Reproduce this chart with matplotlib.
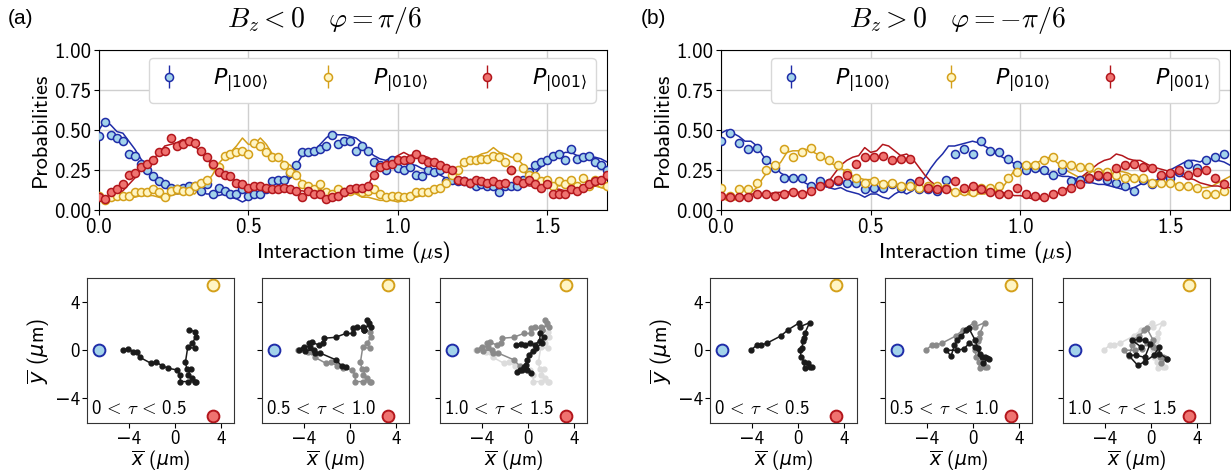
import numpy as np
import matplotlib.pyplot as plt
from matplotlib.font_manager import FontProperties

# LaTeX-like sans serif (shipped with matplotlib), DejaVu for missing glyphs
plt.rcParams['font.family'] = ['cmss10', 'DejaVu Sans']
plt.rcParams['mathtext.fontset'] = 'cm'

# ---- data: panel (a), Bz < 0 ----
t_a = np.arange(86) * 0.02          # measured every 20 ns
a_blue = [0.46, 0.55, 0.47, 0.45, 0.43, 0.35, 0.34, 0.29, 0.25, 0.21,
          0.18, 0.16, 0.14, 0.13, 0.14, 0.15, 0.15, 0.12, 0.16, 0.10,
          0.14, 0.12, 0.10, 0.10, 0.13, 0.09, 0.10, 0.10, 0.13, 0.18,
          0.19, 0.19, 0.23, 0.28, 0.36, 0.36, 0.37, 0.38, 0.40, 0.47,
          0.41, 0.43, 0.43, 0.37, 0.40, 0.37, 0.30, 0.28, 0.25, 0.31,
          0.26, 0.25, 0.27, 0.22, 0.21, 0.25, 0.24, 0.25, 0.18, 0.19,
          0.18, 0.18, 0.17, 0.15, 0.16, 0.15, 0.15, 0.11, 0.15, 0.15,
          0.15, 0.19, 0.24, 0.28, 0.30, 0.31, 0.34, 0.35, 0.31, 0.38,
          0.32, 0.33, 0.34, 0.30, 0.28, 0.25]
a_yellow = [0.09, 0.06, 0.08, 0.09, 0.09, 0.09, 0.11, 0.11, 0.11, 0.13,
            0.11, 0.08, 0.12, 0.13, 0.12, 0.12, 0.15, 0.17, 0.19, 0.28,
            0.27, 0.34, 0.35, 0.36, 0.37, 0.35, 0.42, 0.40, 0.36, 0.33,
            0.33, 0.28, 0.24, 0.22, 0.16, 0.15, 0.13, 0.16, 0.11, 0.10,
            0.13, 0.11, 0.12, 0.13, 0.11, 0.12, 0.13, 0.10, 0.08, 0.09,
            0.09, 0.08, 0.09, 0.11, 0.11, 0.11, 0.13, 0.14, 0.17, 0.22,
            0.25, 0.30, 0.31, 0.31, 0.32, 0.32, 0.34, 0.33, 0.30, 0.25,
            0.33, 0.26, 0.22, 0.21, 0.18, 0.19, 0.15, 0.18, 0.16, 0.19,
            0.15, 0.20, 0.15, 0.19, 0.17, 0.15]
a_red = [0.08, 0.07, 0.11, 0.13, 0.16, 0.22, 0.23, 0.27, 0.29, 0.31,
         0.36, 0.37, 0.45, 0.40, 0.41, 0.43, 0.42, 0.37, 0.33, 0.29,
         0.24, 0.22, 0.21, 0.17, 0.16, 0.14, 0.15, 0.15, 0.14, 0.13,
         0.13, 0.14, 0.13, 0.12, 0.08, 0.12, 0.10, 0.10, 0.07, 0.08,
         0.09, 0.11, 0.13, 0.14, 0.14, 0.15, 0.22, 0.27, 0.28, 0.29,
         0.31, 0.31, 0.32, 0.35, 0.32, 0.30, 0.30, 0.28, 0.26, 0.25,
         0.19, 0.18, 0.17, 0.19, 0.18, 0.17, 0.18, 0.16, 0.17, 0.25,
         0.19, 0.17, 0.19, 0.16, 0.14, 0.16, 0.10, 0.10, 0.10, 0.13,
         0.12, 0.14, 0.16, 0.18, 0.19, 0.22]

# theory curves, same 20 ns grid
t_th = np.arange(86) * 0.02
a_blue_th = [0.50, 0.56, 0.53, 0.49, 0.48, 0.43, 0.38, 0.32, 0.27, 0.22,
             0.19, 0.17, 0.15, 0.14, 0.13, 0.11, 0.13, 0.12, 0.10, 0.10,
             0.09, 0.10, 0.08, 0.07, 0.05, 0.07, 0.09, 0.09, 0.11, 0.12,
             0.13, 0.16, 0.20, 0.28, 0.34, 0.36, 0.37, 0.41, 0.45, 0.48,
             0.47, 0.47, 0.46, 0.45, 0.42, 0.37, 0.34, 0.32, 0.31, 0.33,
             0.31, 0.29, 0.28, 0.28, 0.26, 0.25, 0.23, 0.22, 0.20, 0.19,
             0.18, 0.17, 0.16, 0.15, 0.15, 0.14, 0.13, 0.12, 0.13, 0.14,
             0.14, 0.16, 0.19, 0.23, 0.27, 0.30, 0.32, 0.34, 0.36, 0.36,
             0.34, 0.34, 0.33, 0.33, 0.32, 0.30]
a_yellow_th = [0.07, 0.05, 0.06, 0.07, 0.07, 0.08, 0.08, 0.09, 0.09, 0.09,
               0.08, 0.07, 0.09, 0.10, 0.10, 0.11, 0.10, 0.14, 0.17, 0.22,
               0.29, 0.33, 0.36, 0.40, 0.45, 0.41, 0.41, 0.45, 0.41, 0.35,
               0.32, 0.30, 0.28, 0.24, 0.17, 0.15, 0.14, 0.13, 0.11, 0.08,
               0.09, 0.10, 0.11, 0.10, 0.08, 0.08, 0.07, 0.06, 0.06, 0.06,
               0.05, 0.06, 0.07, 0.08, 0.09, 0.10, 0.11, 0.13, 0.17, 0.22,
               0.26, 0.29, 0.32, 0.33, 0.35, 0.36, 0.39, 0.36, 0.35, 0.33,
               0.32, 0.28, 0.24, 0.20, 0.19, 0.18, 0.17, 0.15, 0.16, 0.17,
               0.16, 0.15, 0.16, 0.15, 0.14, 0.13]
a_red_th = [0.07, 0.06, 0.07, 0.09, 0.12, 0.16, 0.20, 0.26, 0.30, 0.32,
            0.35, 0.40, 0.41, 0.42, 0.44, 0.43, 0.40, 0.36, 0.32, 0.28,
            0.25, 0.22, 0.20, 0.18, 0.16, 0.15, 0.15, 0.14, 0.13, 0.13,
            0.14, 0.13, 0.12, 0.12, 0.12, 0.11, 0.10, 0.10, 0.09, 0.08,
            0.08, 0.09, 0.10, 0.11, 0.12, 0.15, 0.23, 0.27, 0.30, 0.32,
            0.34, 0.36, 0.34, 0.35, 0.34, 0.33, 0.31, 0.29, 0.25, 0.22,
            0.20, 0.19, 0.18, 0.18, 0.17, 0.17, 0.17, 0.16, 0.16, 0.17,
            0.17, 0.16, 0.15, 0.15, 0.14, 0.14, 0.13, 0.13, 0.12, 0.12,
            0.12, 0.13, 0.14, 0.15, 0.17, 0.19]

# ---- data: panel (b), Bz > 0 ----
t_b = np.arange(57) * 0.03          # measured every 30 ns
b_blue = [0.43, 0.48, 0.42, 0.38, 0.39, 0.31, 0.26, 0.20, 0.20, 0.20,
          0.15, 0.18, 0.17, 0.18, 0.17, 0.17, 0.13, 0.14, 0.14, 0.16,
          0.14, 0.17, 0.13, 0.13, 0.12, 0.19, 0.35, 0.38, 0.35, 0.43,
          0.37, 0.36, 0.32, 0.28, 0.25, 0.26, 0.25, 0.22, 0.25, 0.18,
          0.19, 0.20, 0.21, 0.19, 0.17, 0.15, 0.12, 0.19, 0.16, 0.21,
          0.20, 0.24, 0.29, 0.26, 0.31, 0.33, 0.35]
b_yellow = [0.14, 0.09, 0.13, 0.13, 0.17, 0.25, 0.28, 0.38, 0.33, 0.36,
            0.39, 0.34, 0.31, 0.28, 0.23, 0.20, 0.17, 0.18, 0.16, 0.17,
            0.15, 0.15, 0.14, 0.15, 0.15, 0.14, 0.11, 0.12, 0.11, 0.14,
            0.14, 0.15, 0.20, 0.24, 0.28, 0.28, 0.31, 0.33, 0.29, 0.28,
            0.27, 0.27, 0.24, 0.24, 0.22, 0.20, 0.20, 0.20, 0.17, 0.17,
            0.17, 0.15, 0.15, 0.14, 0.10, 0.10, 0.12]
b_red = [0.09, 0.08, 0.08, 0.08, 0.10, 0.10, 0.09, 0.10, 0.11, 0.10,
         0.12, 0.15, 0.17, 0.19, 0.22, 0.29, 0.33, 0.33, 0.34, 0.31,
         0.32, 0.32, 0.18, 0.14, 0.13, 0.13, 0.18, 0.14, 0.15, 0.13,
         0.11, 0.10, 0.10, 0.14, 0.10, 0.09, 0.08, 0.10, 0.12, 0.14,
         0.16, 0.20, 0.22, 0.21, 0.26, 0.28, 0.29, 0.27, 0.26, 0.22,
         0.23, 0.25, 0.22, 0.24, 0.25, 0.20, 0.16]
b_blue_th = [0.48, 0.50, 0.48, 0.46, 0.43, 0.43, 0.40, 0.34, 0.30, 0.27,
             0.23, 0.21, 0.20, 0.19, 0.17, 0.15, 0.14, 0.15, 0.14, 0.13,
             0.14, 0.12, 0.11, 0.10, 0.08, 0.10, 0.10, 0.08, 0.07, 0.10,
             0.12, 0.10, 0.12, 0.16, 0.20, 0.26, 0.31, 0.35, 0.40, 0.40,
             0.41, 0.42, 0.43, 0.42, 0.40, 0.38, 0.35, 0.33, 0.31, 0.29,
             0.28, 0.26, 0.26, 0.25, 0.23, 0.22, 0.22, 0.21, 0.21, 0.20,
             0.18, 0.17, 0.17, 0.16, 0.16, 0.15, 0.14, 0.13, 0.13, 0.14,
             0.16, 0.17, 0.18, 0.19, 0.20, 0.25, 0.27, 0.29, 0.31, 0.31,
             0.30, 0.32, 0.32, 0.31, 0.30, 0.28]
b_yellow_th = [0.08, 0.06, 0.06, 0.07, 0.09, 0.11, 0.14, 0.20, 0.25, 0.26,
               0.30, 0.36, 0.37, 0.37, 0.38, 0.37, 0.35, 0.33, 0.30, 0.28,
               0.26, 0.24, 0.21, 0.20, 0.19, 0.19, 0.18, 0.17, 0.17, 0.16,
               0.16, 0.16, 0.16, 0.15, 0.14, 0.13, 0.13, 0.12, 0.12, 0.11,
               0.10, 0.10, 0.09, 0.10, 0.10, 0.11, 0.12, 0.14, 0.19, 0.25,
               0.29, 0.28, 0.29, 0.30, 0.32, 0.33, 0.30, 0.27, 0.24, 0.22,
               0.20, 0.22, 0.24, 0.24, 0.23, 0.22, 0.24, 0.24, 0.23, 0.21,
               0.20, 0.19, 0.18, 0.18, 0.17, 0.17, 0.16, 0.15, 0.15, 0.14,
               0.14, 0.14, 0.15, 0.17, 0.19, 0.21]
b_red_th = [0.07, 0.08, 0.08, 0.08, 0.09, 0.10, 0.10, 0.10, 0.10, 0.11,
            0.11, 0.11, 0.12, 0.11, 0.10, 0.13, 0.14, 0.15, 0.18, 0.23,
            0.28, 0.31, 0.33, 0.34, 0.39, 0.36, 0.37, 0.41, 0.40, 0.37,
            0.34, 0.35, 0.32, 0.27, 0.22, 0.18, 0.15, 0.14, 0.13, 0.12,
            0.12, 0.12, 0.12, 0.12, 0.11, 0.11, 0.11, 0.11, 0.10, 0.09,
            0.09, 0.08, 0.07, 0.07, 0.07, 0.09, 0.10, 0.12, 0.14, 0.17,
            0.20, 0.23, 0.26, 0.29, 0.31, 0.32, 0.35, 0.34, 0.32, 0.31,
            0.31, 0.29, 0.27, 0.26, 0.25, 0.24, 0.22, 0.21, 0.20, 0.19,
            0.17, 0.16, 0.15, 0.15, 0.14, 0.14]
p_err = 0.015

# ---- mean position of the excitation (um) ----
a1_x = [-4.50, -4.03, -3.60, -3.30, -3.04, -2.09, -1.62, -1.10, -0.58, 0.14, 0.46, 0.46, 1.10,
        1.71, 1.86, 1.48, 1.10, 1.39, 1.04, 0.90, 1.10, 1.71, 1.48, 1.80, 1.71, 1.23]
a1_y = [0.00, 0.11, -0.11, -0.17, -0.59, -1.09, -1.00, -1.31, -1.51, -1.65, -2.07, -2.63, -2.63,
        -2.68, -2.63, -2.35, -2.07, -1.60, -1.60, -1.03, 0.23, 0.17, 0.59, 1.09, 1.56, 1.70]
a2_x = [1.23, 1.65, 1.51, 1.80, 1.13, 1.22, 0.64, 0.26, 0.26, -0.38, -1.24, -2.26, -2.31,
        -2.70, -3.27, -3.56, -3.42, -4.00, -4.43, -3.85, -3.13, -2.98, -2.55, -1.24, -0.72, -0.38]
a2_y = [1.70, 2.26, 2.49, 1.97, 1.97, 1.70, 1.97, 1.83, 1.40, 1.40, 1.08, 1.00, 0.58,
        0.44, 0.66, 0.58, 0.30, 0.30, 0.03, -0.03, 0.03, -0.20, -0.25, -0.80, -1.30, -1.42]
a3_x = [-0.38, -0.72, -0.96, -0.52, -0.09, 0.26, -0.14, -0.09, 0.06, 0.43, 0.72, 1.22, 1.36,
        1.07, 1.00, 0.57, 0.19, -0.24, -0.61, -1.01]
a3_y = [-1.42, -1.70, -1.82, -1.65, -1.65, -1.92, -1.23, -0.81, -0.39, -0.03, 0.17, 0.64, 1.08,
        1.41, 0.80, 0.44, 0.58, 0.44, 0.53, 0.44]
b1_x = [-4.05, -3.56, -3.20, -2.70, -1.47, -0.87, 0.12, 0.20, 1.00, 0.58, 0.55, 0.44, 0.35,
        0.20, 0.26, 0.50, 0.58, 1.00, 1.20, 0.90]
b1_y = [0.00, 0.44, 0.44, 0.58, 1.20, 1.70, 2.30, 1.98, 2.30, 1.40, 1.00, 0.80, 0.17,
        0.03, -0.53, -0.95, -1.50, -1.42, -1.42, -1.10]
b2_x = [0.90, 1.25, 0.78, 0.40, 0.16, -0.38, -0.56, -1.00, -1.35, -1.60, -1.90, -2.30, -1.40,
        -0.80, -0.30, 0.20, 0.60, 1.00, 1.40]
b2_y = [-1.10, -0.69, -0.55, 0.20, 0.89, 1.88, 1.66, 1.20, 0.89, 0.40, -0.50, 0.00, 0.00,
        0.10, 0.60, 0.30, -0.30, -0.60, -0.70]
b3_x = [1.40, 0.72, 0.72, 0.25, -0.53, -1.16, -1.94, -1.30, -0.53, -0.06, -0.53, -1.00, -1.63,
        -0.90]
b3_y = [-0.70, -0.28, 0.28, -0.42, -0.97, -1.25, -0.42, -0.42, -0.60, 0.55, 0.83, 0.91, 0.83,
        0.30]
site_x = [-6.6, 3.3, 3.3]
site_y = [0.0, 5.5, -5.5]
windows = [('0', '0.5'), ('0.5', '1.0'), ('1.0', '1.5')]

p_ticks = [0, 0.25, 0.5, 0.75, 1.0]
t_ticks = [0, 0.5, 1.0, 1.5]
r_ticks = [-4, 0, 4]

# ---- styles ----
line_c = ['#1f2ca8', '#d4a01a', '#b3161c']
face_c = ['#a3d3ea', '#fff5c4', '#ef7370']
labels = [r'$P_{|100\rangle}$', r'$P_{|010\rangle}$', r'$P_{|001\rangle}$']

W, H = 1231, 471
fig = plt.figure(figsize=(W / 100, H / 100), dpi=100)


def px_axes(left, top, w, h):
    return fig.add_axes([left / W, 1 - (top + h) / H, w / W, h / H])


def top_panel(ax, t, data, t_line, theory):
    for k in range(3):
        ax.plot(t_line, theory[k], color=line_c[k], lw=1.1, zorder=2)
    for k in range(3):
        ax.errorbar(t, data[k], yerr=p_err, fmt='o', ms=5.8, mfc=face_c[k], mec=line_c[k],
                    mew=1.1, ecolor=line_c[k], elinewidth=1, capsize=0, label=labels[k], zorder=3)
    ax.set_xlim(0, 1.7)
    ax.set_ylim(0, 1)
    ax.set_xticks(t_ticks)
    ax.set_yticks(p_ticks)
    ax.yaxis.set_major_formatter('{x:.2f}')
    ax.grid(True, color='#cfcfcf', lw=1)
    ax.set_axisbelow(True)
    ax.tick_params(labelsize=15, pad=2)
    ax.set_ylabel('Probabilities', fontsize=16, labelpad=3)
    ax.set_xlabel(r'Interaction time ($\mu$s)', fontsize=16, labelpad=2)
    leg = ax.legend(ncol=3, loc='lower left', bbox_to_anchor=(0.098, 0.67, 0.88, 0.255),
                    mode='expand', prop=FontProperties(size=16, math_fontfamily='dejavusans'),
                    handlelength=1.0, handletextpad=1.5, borderaxespad=0, framealpha=1,
                    edgecolor='#d8d8d8', fancybox=True)
    leg.get_frame().set_linewidth(1.0)


def traj_panel(ax, segs, win, first):
    greys = {1: ['#1a1a1a'], 2: ['#8a8a8a', '#1a1a1a'], 3: ['#dcdcdc', '#8a8a8a', '#1a1a1a']}[len(segs)]
    for (sx, sy), c in zip(segs, greys):
        ax.plot(sx, sy, '-o', color=c, ms=3.5, lw=1.1)
    for k in range(3):
        ax.plot(site_x[k], site_y[k], 'o', ms=8.5, mfc=face_c[k], mec=line_c[k], mew=1.4)
    ax.set_xlim(-7.6, 5.1)
    ax.set_ylim(-6.1, 6.05)
    ax.set_xticks(r_ticks)
    ax.set_yticks(r_ticks)
    ax.tick_params(labelsize=13.5, pad=1.5)
    ax.set_xlabel(r'$\overline{x}$ ($\mu$m)', fontsize=13.5, labelpad=0,
                  math_fontfamily='dejavusans')
    if first:
        ax.set_ylabel(r'$\overline{y}$ ($\mu$m)', fontsize=15, labelpad=2,
                      math_fontfamily='dejavusans')
    else:
        ax.set_yticklabels([])
    lo, hi = win
    ax.text(0.025, 0.06, lo + r'$\,<\,\tau\,<\,$' + hi, transform=ax.transAxes, fontsize=13.5)
    for s in ax.spines.values():
        s.set_color('#333333')


ax_a = px_axes(99, 50, 508, 160)
top_panel(ax_a, t_a, [a_blue, a_yellow, a_red], t_th, [a_blue_th, a_yellow_th, a_red_th])
ax_b = px_axes(721, 50, 509, 160)
top_panel(ax_b, t_b, [b_blue, b_yellow, b_red], t_th, [b_blue_th, b_yellow_th, b_red_th])

segs_a = [(a1_x, a1_y), (a2_x, a2_y), (a3_x, a3_y)]
segs_b = [(b1_x, b1_y), (b2_x, b2_y), (b3_x, b3_y)]
for i, left in enumerate([87, 262, 440]):
    traj_panel(px_axes(left, 278, 147, 145), segs_a[:i + 1], windows[i], i == 0)
for i, left in enumerate([710, 885, 1063]):
    traj_panel(px_axes(left, 278, 147, 145), segs_b[:i + 1], windows[i], i == 0)

fig.text(8 / W, 1 - 18 / H, '(a)', fontsize=15, va='center', family='Liberation Sans')
fig.text(641 / W, 1 - 18 / H, '(b)', fontsize=15, va='center', family='Liberation Sans')
fig.text(325 / W, 1 - 20 / H, r'$B_z < 0 \quad \varphi = \pi/6$', fontsize=20,
         ha='center', va='center')
fig.text(957 / W, 1 - 20 / H, r'$B_z > 0 \quad \varphi = -\pi/6$', fontsize=20,
         ha='center', va='center')

fig.savefig('out.png', dpi=100)
